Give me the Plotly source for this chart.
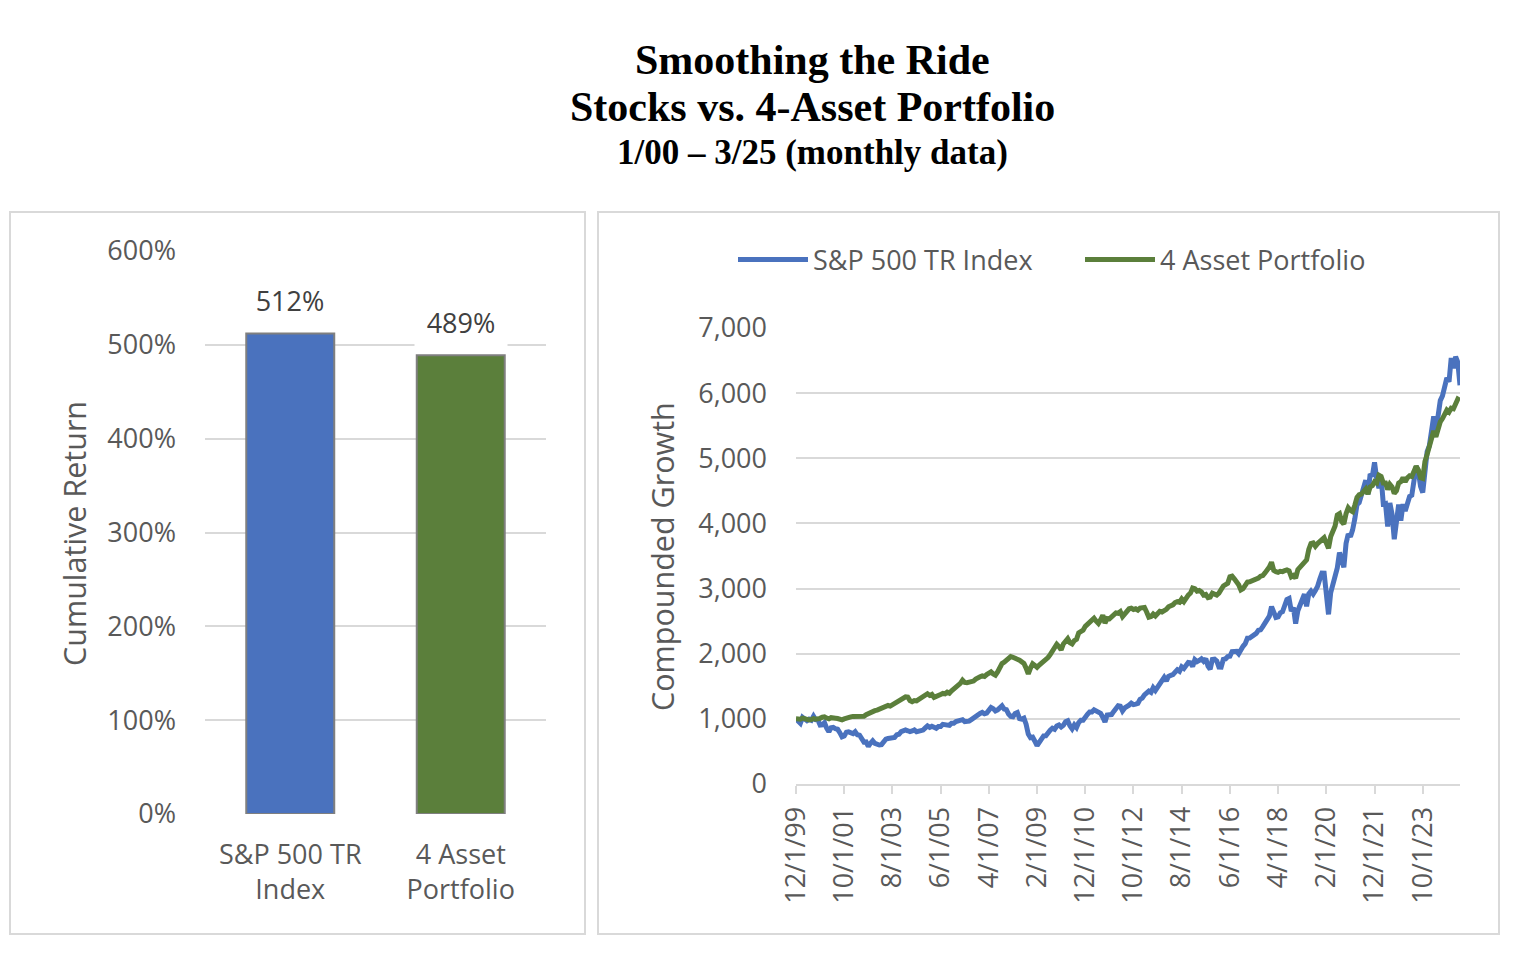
import plotly.graph_objects as go
import pandas as pd

# ---------------- data ----------------
bar_categories = ["S&P 500 TR<br>Index", "4 Asset<br>Portfolio"]
bar_values = [512, 489]
bar_labels = ["512%", "489%"]
bar_ticks = [0, 100, 200, 300, 400, 500, 600]
bar_ticktext = ["0%", "100%", "200%", "300%", "400%", "500%", "600%"]

series_names = ["S&P 500 TR Index", "4 Asset Portfolio"]

sp500 = [
    1000,
    950, 932, 1023, 992, 972, 996, 980, 1041, 986, 982, 905, 909,
    942, 856, 801, 864, 870, 848, 840, 788, 724, 738, 794, 801,
    790, 774, 804, 755, 749, 696, 642, 646, 576, 626, 663, 624,
    608, 599, 605, 654, 689, 698, 710, 724, 716, 757, 763, 803,
    818, 829, 817, 804, 815, 831, 803, 807, 815, 828, 861, 891,
    869, 887, 871, 855, 882, 883, 916, 908, 915, 900, 934, 934,
    959, 962, 974, 987, 958, 959, 965, 988, 1014, 1047, 1067, 1082,
    1098, 1077, 1089, 1137, 1176, 1157, 1121, 1138, 1180, 1199, 1149, 1141,
    1073, 1038, 1033, 1084, 1098, 1005, 997, 1011, 919, 765, 710, 718,
    657, 587, 639, 700, 739, 740, 796, 825, 856, 840, 890, 907,
    875, 902, 956, 971, 894, 847, 906, 866, 943, 979, 979, 1044,
    1069, 1105, 1106, 1139, 1126, 1107, 1084, 1026, 953, 1058, 1055, 1066,
    1114, 1162, 1200, 1193, 1121, 1167, 1183, 1210, 1241, 1218, 1225, 1236,
    1300, 1318, 1368, 1394, 1427, 1407, 1479, 1436, 1481, 1549, 1597, 1637,
    1580, 1653, 1667, 1679, 1718, 1754, 1730, 1799, 1774, 1817, 1866, 1861,
    1805, 1909, 1879, 1897, 1922, 1884, 1924, 1808, 1763, 1912, 1918, 1888,
    1794, 1792, 1913, 1921, 1955, 1960, 2033, 2035, 2036, 1999, 2073, 2114,
    2154, 2240, 2242, 2265, 2297, 2312, 2359, 2366, 2415, 2471, 2547, 2576,
    2723, 2623, 2556, 2566, 2628, 2644, 2742, 2832, 2848, 2653, 2707, 2463,
    2660, 2745, 2799, 2912, 2727, 2919, 2961, 2915, 2969, 3034, 3144, 3239,
    3237, 2971, 2604, 2938, 3078, 3139, 3316, 3554, 3419, 3328, 3693, 3835,
    3796, 3901, 4071, 4289, 4319, 4419, 4525, 4662, 4445, 4757, 4724, 4936,
    4681, 4541, 4709, 4299, 4306, 3951, 4315, 4139, 3758, 4062, 4289, 4042,
    4296, 4191, 4345, 4413, 4432, 4725, 4877, 4799, 4570, 4474, 4883, 5104,
    5190, 5467, 5643, 5413, 5682, 5886, 5957, 6102, 6233, 6176, 6539, 6383,
    6560, 6475, 6120,
]

four_asset = [
    1000,
    990, 995, 1012, 1000, 992, 985, 990, 1005, 996, 998, 1008, 1025,
    1030, 1012, 1000, 1018, 1022, 1010, 1005, 995, 985, 1000, 1015, 1028,
    1030, 1038, 1042, 1046, 1050, 1048, 1040, 1065, 1085, 1100, 1112, 1125,
    1135, 1150, 1155, 1175, 1200, 1205, 1195, 1215, 1240, 1265, 1275, 1305,
    1320, 1338, 1335, 1280, 1262, 1280, 1275, 1300, 1315, 1335, 1365, 1385,
    1360, 1375, 1330, 1340, 1360, 1375, 1390, 1385, 1410, 1395, 1430, 1455,
    1500, 1510, 1545, 1595, 1560, 1555, 1565, 1560, 1580, 1610, 1635, 1645,
    1660, 1650, 1680, 1700, 1720, 1690, 1670, 1720, 1800, 1850, 1870, 1900,
    1935, 1955, 1945, 1920, 1915, 1900, 1880, 1850, 1780, 1690, 1780, 1845,
    1820, 1790, 1825, 1850, 1890, 1895, 1940, 1985, 2035, 2080, 2145, 2110,
    2060, 2150, 2200, 2230, 2170, 2150, 2200, 2220, 2320, 2350, 2360, 2420,
    2450, 2490, 2510, 2545, 2500, 2465, 2520, 2590, 2470, 2540, 2535, 2565,
    2610, 2625, 2620, 2645, 2570, 2620, 2665, 2690, 2700, 2680, 2690, 2670,
    2700, 2705, 2710, 2640, 2560, 2570, 2610, 2580, 2615, 2650, 2640, 2655,
    2680, 2720, 2730, 2750, 2785, 2800, 2790, 2840, 2800, 2860, 2900, 2930,
    3010, 3000, 2960, 2970, 2950, 2900, 2910, 2860, 2870, 2930, 2920, 2900,
    2930, 2990, 3040, 3060, 3080, 3180, 3190, 3150, 3110, 3060, 2980, 3000,
    3050, 3100, 3105, 3120, 3135, 3130, 3160, 3190, 3200, 3240, 3280, 3330,
    3405, 3280, 3260, 3250, 3265, 3260, 3275, 3285, 3270, 3180, 3200, 3160,
    3290, 3330, 3380, 3420, 3440, 3600, 3690, 3700, 3650, 3690, 3720, 3760,
    3780, 3700, 3620, 3800, 3880, 3960, 4130, 4150, 4030, 3990, 4150, 4240,
    4200, 4180, 4280, 4400, 4440, 4450, 4490, 4530, 4450, 4560, 4580, 4640,
    4620, 4740, 4720, 4620, 4620, 4520, 4600, 4560, 4460, 4500, 4620, 4640,
    4700, 4640, 4700, 4730, 4720, 4830, 4880, 4820, 4700, 4690, 4950, 5060,
    5180, 5340, 5420, 5330, 5470, 5560, 5610, 5690, 5740, 5710, 5770, 5760,
    5850, 5910, 5890,
]

month_starts = pd.date_range("1999-12-01", periods=len(sp500), freq="MS")
date_labels = [f"{d.month}/1/{d.year % 100:02d}" for d in month_starts]
date_tick_labels = date_labels[::22]

# ---------------- style ----------------
PAGE_W, PAGE_H = 1528, 962
OFF = 8                      # page body margin
W, H = PAGE_W - 2 * OFF, PAGE_H - 2 * OFF
BLUE = "#4A72BE"
GREEN = "#5B7F3B"
GRID = "#D9D9D9"
TXT = "#595959"
SANS = "Open Sans"
SERIF = "Liberation Serif"


def px(x):
    """page pixel x -> paper fraction"""
    return (x - OFF) / W


def py(y):
    """page pixel y (from top) -> paper fraction"""
    return (H - (y - OFF)) / H


fig = go.Figure()

fig.add_trace(go.Bar(
    x=bar_categories, y=bar_values,
    marker=dict(color=[BLUE, GREEN], line=dict(color="#7F7F7F", width=2)),
    xaxis="x", yaxis="y", showlegend=False, hoverinfo="skip",
))

fig.add_trace(go.Scatter(
    x=date_labels, y=sp500, name=series_names[0], mode="lines",
    line=dict(color=BLUE, width=5), xaxis="x2", yaxis="y2",
))
fig.add_trace(go.Scatter(
    x=date_labels, y=four_asset, name=series_names[1], mode="lines",
    line=dict(color=GREEN, width=5), xaxis="x2", yaxis="y2",
))

annotations = []
for cat, val, lab in zip(bar_categories, bar_values, bar_labels):
    annotations.append(dict(
        x=cat, y=val, xref="x", yref="y", text=lab, showarrow=False,
        yanchor="middle", yshift=33, bgcolor="white", borderpad=5,
        width=82, font=dict(family=SANS, size=27, color="#404040"),
    ))

annotations += [
    dict(x=px(812), y=py(60), xref="paper", yref="paper", showarrow=False,
         text="<b>Smoothing the Ride</b>", xanchor="center", yanchor="middle",
         font=dict(family=SERIF, size=42, color="black")),
    dict(x=px(812), y=py(107), xref="paper", yref="paper", showarrow=False,
         text="<b>Stocks vs. 4-Asset Portfolio</b>", xanchor="center", yanchor="middle",
         font=dict(family=SERIF, size=42, color="black")),
    dict(x=px(812), y=py(153), xref="paper", yref="paper", showarrow=False,
         text="<b>1/00 – 3/25 (monthly data)</b>", xanchor="center", yanchor="middle",
         font=dict(family=SERIF, size=35, color="black")),
    dict(x=px(74), y=py(534), xref="paper", yref="paper", showarrow=False,
         text="Cumulative Return", textangle=-90, xanchor="center", yanchor="middle",
         font=dict(family=SANS, size=30.5, color=TXT)),
    dict(x=px(662), y=py(557), xref="paper", yref="paper", showarrow=False,
         text="Compounded Growth", textangle=-90, xanchor="center", yanchor="middle",
         font=dict(family=SANS, size=30.5, color=TXT)),
]

shapes = [
    dict(type="rect", xref="paper", yref="paper", x0=px(10), x1=px(585),
         y0=py(934), y1=py(212), line=dict(color=GRID, width=2), layer="below"),
    dict(type="rect", xref="paper", yref="paper", x0=px(598), x1=px(1499),
         y0=py(934), y1=py(212), line=dict(color=GRID, width=2), layer="below"),
]

tickfont = dict(family=SANS, size=27, color=TXT)

fig.update_layout(
    width=W, height=H,
    margin=dict(l=0, r=0, t=0, b=0, pad=0, autoexpand=False),
    paper_bgcolor="white", plot_bgcolor="white",
    bargap=0.484,
    annotations=annotations, shapes=shapes,
    legend=dict(orientation="h", x=px(733), y=py(260), xanchor="left", yanchor="middle",
                font=dict(family=SANS, size=27, color=TXT), itemwidth=70,
                entrywidth=262, bgcolor="rgba(0,0,0,0)"),
    xaxis=dict(domain=[px(205), px(546)], anchor="y", type="category",
               showline=False, ticks="", tickfont=tickfont, ticklabelstandoff=22,
               showgrid=False, zeroline=False, automargin=False),
    yaxis=dict(domain=[py(814), py(251)], anchor="x", range=[0, 600],
               tickvals=bar_ticks, ticktext=bar_ticktext, tickfont=tickfont,
               showgrid=True, gridcolor=GRID, gridwidth=2, zeroline=False,
               showline=False, ticks="", ticklabelstandoff=28, automargin=False),
    xaxis2=dict(domain=[px(796), px(1460)], anchor="y2", type="category",
                range=[0, len(date_labels) - 1], tickvals=date_tick_labels,
                ticktext=date_tick_labels, tickangle=-90, tickfont=tickfont,
                ticks="outside", ticklen=8, tickwidth=2, tickcolor=GRID,
                showline=True, linecolor=GRID, linewidth=2, showgrid=False,
                zeroline=False, ticklabelstandoff=2, automargin=False),
    yaxis2=dict(domain=[py(784), py(328)], anchor="x2", range=[0, 7000],
                dtick=1000, tickformat=",", tickfont=tickfont,
                showgrid=True, gridcolor=GRID, gridwidth=2, zeroline=False,
                showline=False, ticks="", ticklabelstandoff=28, automargin=False),
)

fig.write_html("out.html")
